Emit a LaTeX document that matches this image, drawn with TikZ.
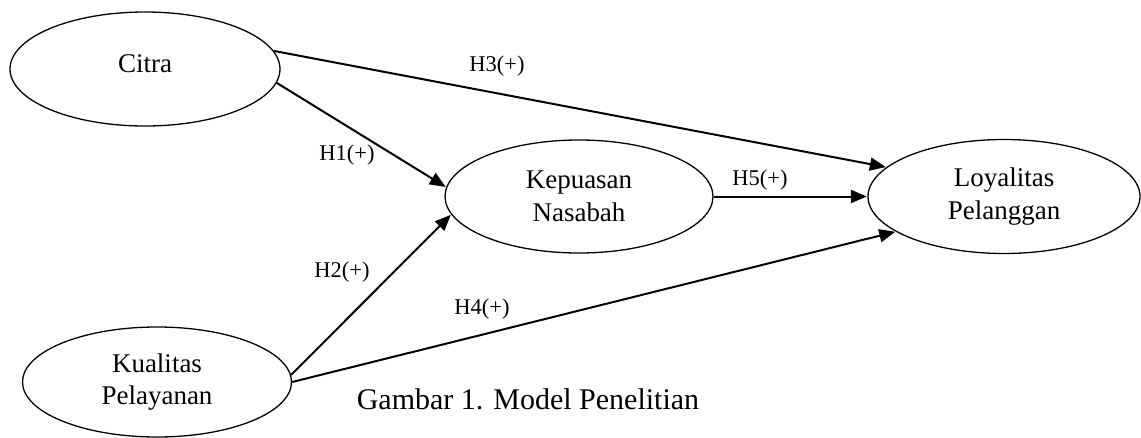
\documentclass[tikz,border=0pt]{standalone}
\usepackage{fontspec}
\setmainfont{Liberation Serif}
\usetikzlibrary{shapes.geometric,arrows.meta}
\tikzset{
  var/.style={ellipse, draw, line width=1.3pt, inner sep=0pt, align=center,
    font=\fontsize{27}{32.5}\selectfont},
  conn/.style={line width=2pt, -{Triangle[length=16pt,width=13pt]}, shorten >=0.5pt},
  hyp/.style={font=\fontsize{22.5}{27}\selectfont, inner sep=0pt},
  captext/.style={font=\fontsize{30}{36}\selectfont, inner sep=0pt}
}
\begin{document}
\begin{tikzpicture}[x=1pt,y=-1pt]
\useasboundingbox (0,0) rectangle (1141,437);
\node[var, minimum width=270pt, minimum height=114pt, text height=18pt, text depth=12pt] (citra) at (145,69) {Citra};
\node[var, minimum width=268pt, minimum height=113pt] (kep) at (579,196.5) {Kepuasan\\Nasabah};
\node[var, minimum width=272pt, minimum height=114pt] (loy) at (1004,196.5) {Loyalitas\\Pelanggan};
\node[var, minimum width=269pt, minimum height=110pt] (kual) at (157,382) {Kualitas\\Pelayanan};

\draw[conn] (citra.8.4) -- (loy.166.5);
\draw[conn] (citra.-6) -- (kep.176.8);
\draw[conn] (kual.3) -- (kep.-172.3);
\draw[conn] (kual.0) -- (loy.-162);
\draw[conn] (kep.east) -- (loy.west);

\node[hyp] (h3) at (497,66) {H3(+)};
\node[hyp] (h1) at (347,155) {H1(+)};
\node[hyp] (h5) at (760,180) {H5(+)};
\node[hyp] (h2) at (342,272) {H2(+)};
\node[hyp] (h4) at (482,309) {H4(+)};
\node[captext] (caption) at (528,399) {Gambar 1. Model Penelitian};
\end{tikzpicture}
\end{document}
